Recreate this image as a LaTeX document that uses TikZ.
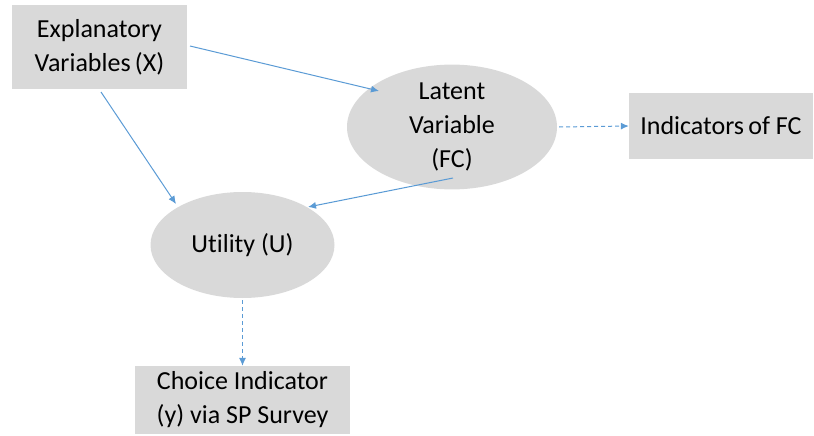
\documentclass[tikz,border=0pt]{standalone}
\usepackage{fontspec}
\setmainfont{Carlito}[Ligatures={NoCommon}]
\usetikzlibrary{shapes.geometric,arrows.meta}
\definecolor{boxgray}{HTML}{D9D9D9}
\definecolor{arrowblue}{HTML}{5B9BD5}
\begin{document}
\begin{tikzpicture}[x=1pt,y=-1pt,
  every node/.style={font=\fontsize{26}{34}\selectfont, align=center, inner sep=0pt},
  rectbox/.style={fill=boxgray, draw=none},
  ellbox/.style={ellipse, fill=boxgray, draw=none},
  conn/.style={draw=arrowblue, line width=1pt, -{Latex[length=8pt,width=7pt]}},
  dconn/.style={conn, dash pattern=on 4pt off 3pt}]
\useasboundingbox (0,0) rectangle (814,436);
\node[rectbox, minimum width=175pt, minimum height=84pt] (expl) at (99.5,47) {Explanatory\\Variables\,(X)};
\node[ellbox, minimum width=210pt, minimum height=105pt] (lat) at (452,127) {Latent\\Variable\\(FC)};
\node[rectbox, minimum width=184pt, minimum height=66pt] (ind) at (721,126) {Indicators\,of FC};
\node[ellbox, minimum width=184pt, minimum height=106pt] (util) at (242.5,245) {Utility (U)};
\node[rectbox, minimum width=215pt, minimum height=68pt] (choice) at (242.5,400) {Choice Indicator\\(y) via SP Survey};
\coordinate (a1s) at (190,46);
\coordinate (a1e) at (379,91);
\coordinate (a2s) at (101,92);
\coordinate (a2e) at (176,204);
\coordinate (a3s) at (453,178);
\coordinate (a3e) at (308,207);
\draw[conn] (a1s) -- (a1e);
\draw[conn] (a2s) -- (a2e);
\draw[conn] (a3s) -- (a3e);
\draw[dconn] (lat.east) ++(2,0) coordinate (a4s) -- (ind.west);
\draw[dconn] (util.south) ++(0,2) coordinate (a5s) -- (choice.north);
\end{tikzpicture}
\end{document}
